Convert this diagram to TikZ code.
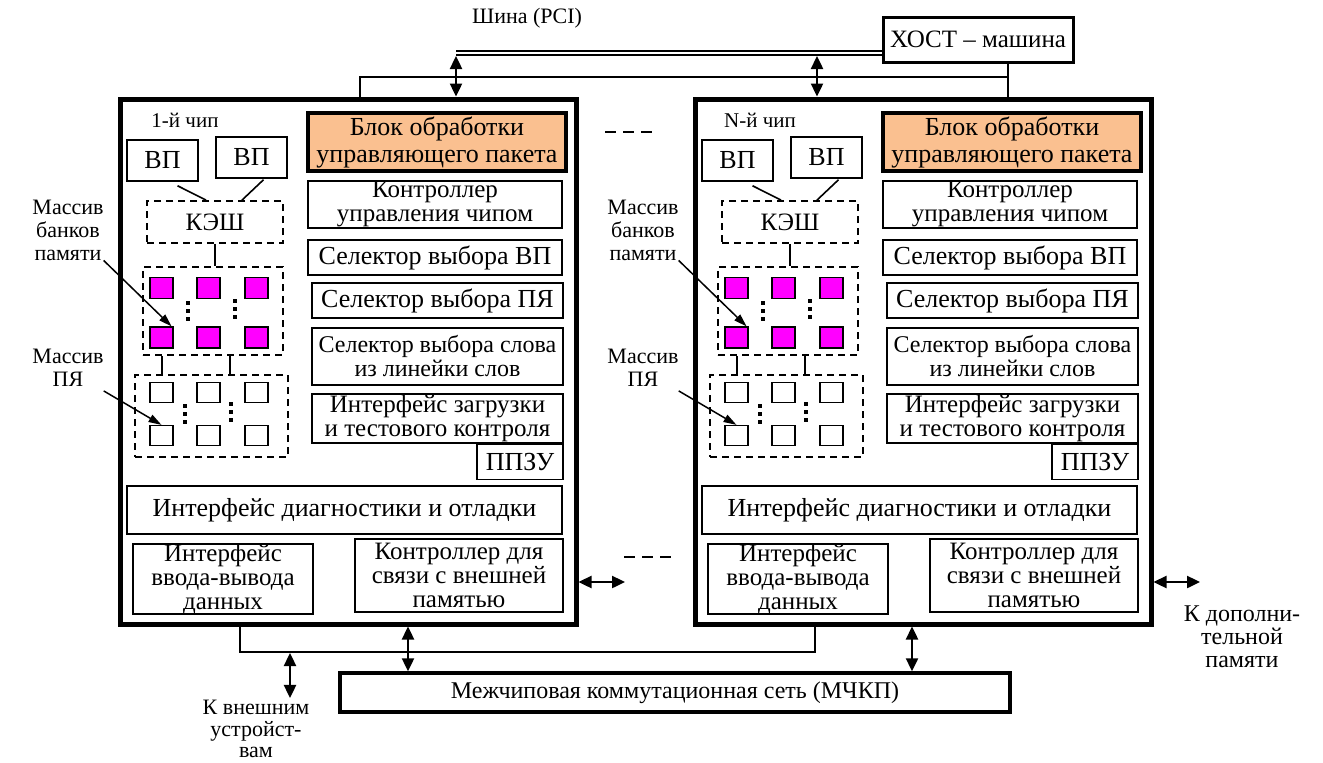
\documentclass[tikz,border=0pt]{standalone}
\usepackage{fontspec}
\setmainfont{Liberation Serif}
\usetikzlibrary{positioning,arrows.meta}
\definecolor{PacketOrange}{HTML}{FAC090}
\definecolor{BankMagenta}{HTML}{FF00FF}

\begin{document}
\begin{tikzpicture}[x=1pt, y=-1pt,
  chipbox/.style={draw, line width=5pt, minimum width=456pt, minimum height=525pt, inner sep=0pt},
  unit/.style={draw, line width=1.5pt, inner sep=0pt, align=center, font=\fontsize{26}{25}\selectfont},
  smallunit/.style={unit, font=\fontsize{24}{24}\selectfont},
  cachebox/.style={draw, line width=1.8pt, dash pattern=on 7pt off 5pt, inner sep=0pt},
  cell/.style={draw, line width=1.2pt, minimum width=23pt, minimum height=21pt, inner sep=0pt},
  bankcell/.style={cell, fill=BankMagenta},
  caption/.style={align=center, inner sep=0pt, font=\fontsize{22}{23}\selectfont},
  link/.style={line width=1.6pt},
  dots/.style={line width=3.5pt, dash pattern=on 4pt off 4pt},
  pointer/.style={line width=1.5pt, -{Triangle[length=13pt,width=8pt]}},
  bus/.style={line width=2.8pt},
  pcibus/.style={double, line width=1.6pt, double distance=2.4pt},
  dbl/.style={line width=2.4pt, {Triangle[length=13pt,width=12pt]}-{Triangle[length=13pt,width=12pt]}},
  gapdash/.style={line width=2.5pt, dash pattern=on 11pt off 7pt}]
  \useasboundingbox (0,0) rectangle (1323,763);

  % two identical chips, the second shifted to the right
  \foreach \i/\dx/\title in {1/0/1-й чип, 2/575/N-й чип}{
    \begin{scope}[xshift=\dx pt]
      \node[chipbox] (chip\i) at (348,361.5) {};
      \node[caption, font=\fontsize{21}{22}\selectfont] (title\i) at (185,120) {\title};

      % right column of control blocks
      \node[unit, line width=3.5pt, fill=PacketOrange, minimum width=258pt, minimum height=58pt,
            font=\fontsize{26}{27}\selectfont] (packet\i) at (437,142) {Блок обработки\\управляющего пакета};
      \node[unit, minimum width=254pt, minimum height=47pt, font=\fontsize{25}{24}\selectfont] (ctrl\i) at (435,204.5) {Контроллер\\управления чипом};
      \node[unit, minimum width=254pt, minimum height=35pt] (selvp\i) at (435,257.5) {Селектор выбора ВП};
      \node[unit, minimum width=251pt, minimum height=35pt] (selpe\i) at (437.5,300.5) {Селектор выбора ПЯ};
      \node[smallunit, minimum width=251pt, minimum height=57pt] (selword\i) at (437.5,356.5) {Селектор выбора слова\\из линейки слов};
      \node[smallunit, font=\fontsize{25}{24}\selectfont, minimum width=251pt, minimum height=49pt] (load\i) at (437.5,418.5) {Интерфейс загрузки\\и тестового контроля};
      \node[unit, minimum width=86pt, minimum height=35pt, anchor=north east] (rom\i) at (load\i.south east) {ППЗУ};

      % lower blocks
      \node[unit, minimum width=435pt, minimum height=48pt] (debug\i) at (344.5,510) {Интерфейс диагностики и отладки};
      \node[unit, minimum width=180pt, minimum height=70pt, font=\fontsize{25}{24}\selectfont] (io\i) at (223,579) {Интерфейс\\ввода-вывода\\данных};
      \node[unit, minimum width=208pt, minimum height=73pt, font=\fontsize{25}{24}\selectfont] (extmem\i) at (459,575.5) {Контроллер для\\связи с внешней\\памятью};

      % processors, cache and arrays
      \node[unit, minimum width=71pt, minimum height=41pt] (vpa\i) at (162.5,160.5) {ВП};
      \node[unit, minimum width=71pt, minimum height=41pt] (vpb\i) at (251.5,157.5) {ВП};
      \node[cachebox, minimum width=136pt, minimum height=42pt, font=\fontsize{25}{25}\selectfont] (cache\i) at (215,222) {КЭШ};
      \node[cachebox, minimum width=140pt, minimum height=88pt] (banks\i) at (213,311) {};
      \node[cachebox, minimum width=153pt, minimum height=82pt] (pes\i) at (211.5,416) {};
      \foreach \c/\cx in {1/161.5, 2/208.5, 3/256.5}{
        \foreach \r/\ry in {1/288, 2/337.5}
          \node[bankcell] (bank\i-\r\c) at (\cx,\ry) {};
        \foreach \r/\ry in {1/392.5, 2/435.5}
          \node[cell, minimum height=20pt] (pe\i-\r\c) at (\cx,\ry) {};
      }
      \draw[dots] (188,301) -- (188,322);
      \draw[dots] (235,299) -- (235,320);
      \draw[dots] (185,404) -- (185,425);
      \draw[dots] (231,402) -- (231,423);

      \draw[link] ([xshift=15pt, yshift=-4pt]vpa\i.south) -- ([xshift=-9pt]cache\i.north);
      \draw[link] ([xshift=12pt, yshift=-1pt]vpb\i.south) -- ([xshift=27pt]cache\i.north);
      \draw[link] (cache\i.south) -- (cache\i.south |- banks\i.north);
      \draw[link] ([xshift=-51pt]banks\i.south) -- ([xshift=-49.5pt]pes\i.north);
      \draw[link] ([xshift=17pt]banks\i.south) -- ([xshift=18.5pt]pes\i.north);

      % array captions
      \node[caption] (lblbank\i) at (68,230) {Массив\\банков\\памяти};
      \node[caption] (lblpe\i) at (68,368) {Массив\\ПЯ};
      \draw[pointer] (lblbank\i.south east) -- ([xshift=-2pt]bank\i-21.north east);
      \draw[pointer] ([yshift=-4pt]lblpe\i.south east) -- (pe\i-21.north);

      % link to additional memory
      \coordinate (mem\i) at (625,582);
      \draw[dbl] (chip\i.east |- mem\i) -- (mem\i);
    \end{scope}
  }

  % chips in between
  \draw[gapdash] (605,132) -- (653,132);
  \draw[gapdash] (624,557) -- (673,557);

  % host and PCI bus
  \node[unit, line width=3pt, minimum width=190pt, minimum height=45pt, font=\fontsize{25}{25}\selectfont] (host) at (978,39.5) {ХОСТ – машина};
  \node[caption] (pcilabel) at (527,18) {Шина (PCI)};
  \coordinate (pci1) at (456,53);
  \coordinate (pci2) at (817,53);
  \draw[pcibus] (pci1) -- (pci1 -| host.west);
  \draw[dbl] ([yshift=-3pt]pci1) -- (pci1 |- chip1.north);
  \draw[dbl] ([yshift=-3pt]pci2) -- (pci2 |- chip2.north);
  \coordinate (feed) at (1008,77);
  \draw[bus] ([xshift=12pt]chip1.north) |- (feed);
  \draw[bus] (host.south -| feed) -- (chip2.north -| feed);

  % interchip network and external devices
  \node[unit, line width=3.5pt, minimum width=670pt, minimum height=39pt,
        font=\fontsize{24}{24}\selectfont] (mckp) at (675,692.5) {Межчиповая коммутационная сеть (МЧКП)};
  \coordinate (ring) at (815,652);
  \draw[bus] ([xshift=-108pt]chip1.south) |- (ring) -- (ring |- chip2.south);
  \coordinate (down1) at ([xshift=60pt]chip1.south);
  \coordinate (down2) at ([xshift=-11pt]chip2.south);
  \draw[dbl] (down1) -- (down1 |- mckp.north);
  \draw[dbl] (down2) -- (down2 |- mckp.north);
  \node[caption, font=\fontsize{22}{21.5}\selectfont] (devlabel) at (256,729) {К внешним\\устройст-\\вам};
  \coordinate (tap) at (290,653);
  \draw[dbl] (tap) -- ([yshift=2pt]tap |- devlabel.north);
  \node[caption, font=\fontsize{24}{23}\selectfont] (memlabel) at (1242,637) {К дополни-\\тельной\\памяти};
\end{tikzpicture}
\end{document}
